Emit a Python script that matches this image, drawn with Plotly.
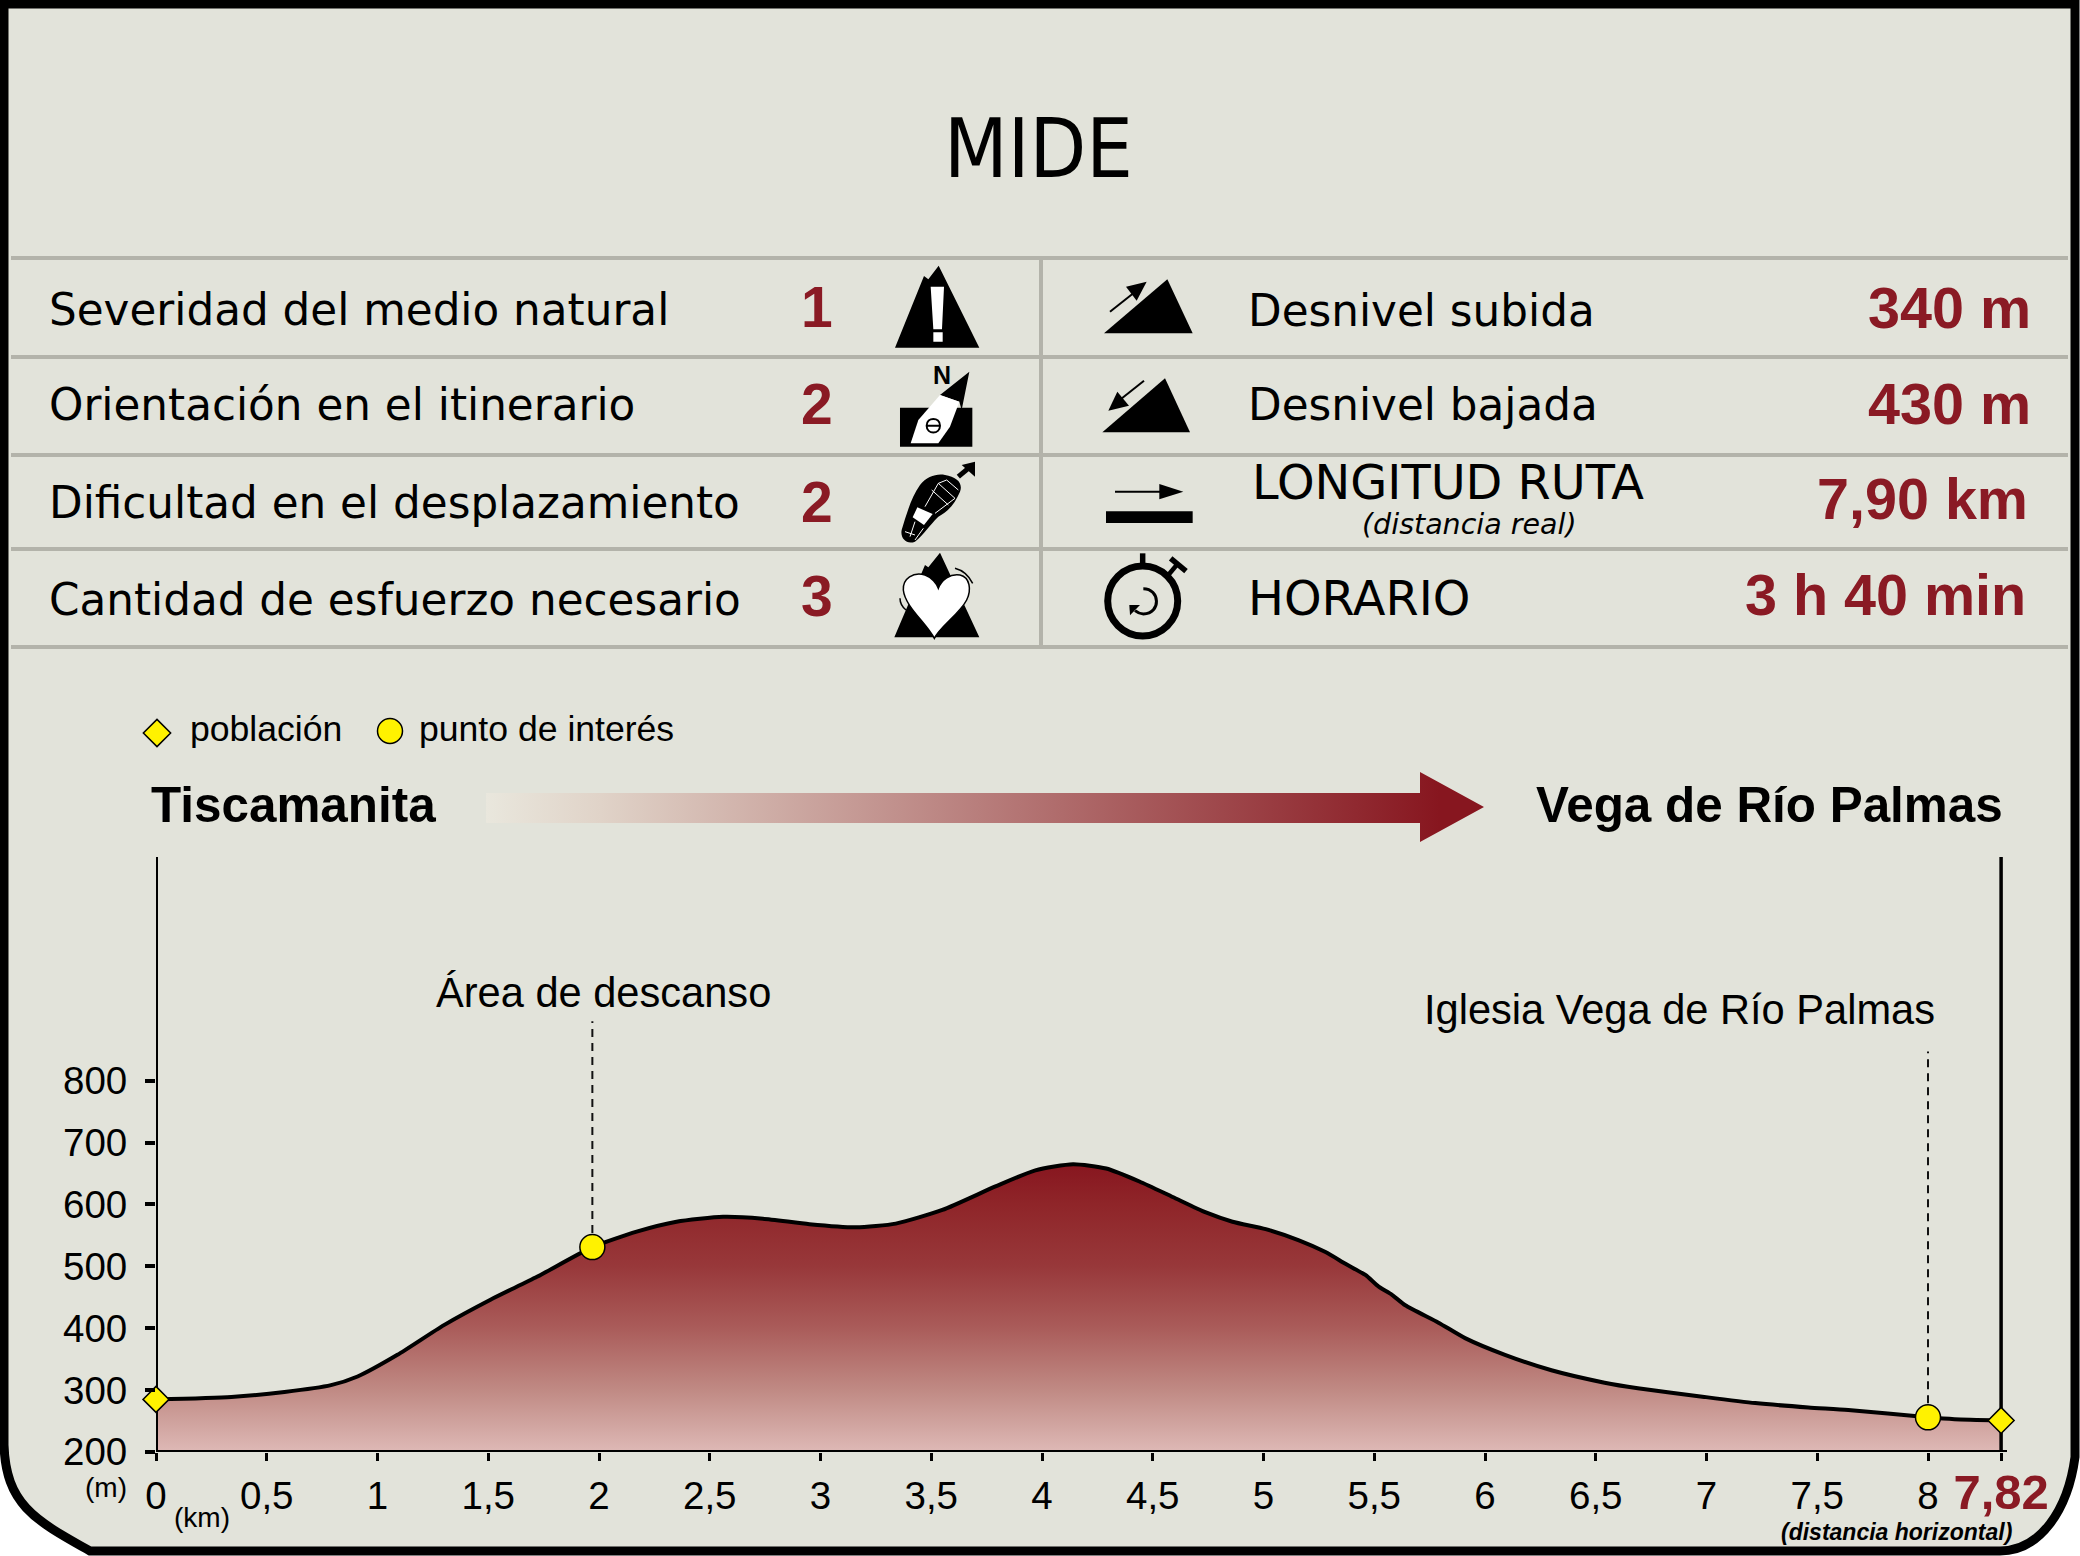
import re
import plotly.graph_objects as go

W, H = 2080, 1556
BG = "#e2e3da"
RED = "#8a1a24"
GREY = "#b3b3aa"
YELLOW = "#fff200"

title = "MIDE"
mide_labels = ["Severidad del medio natural", "Orientación en el itinerario",
               "Dificultad en el desplazamiento", "Cantidad de esfuerzo necesario"]
mide_values = ["1", "2", "2", "3"]
route_labels = ["Desnivel subida", "Desnivel bajada", "LONGITUD RUTA", "HORARIO"]
route_values = ["340 m", "430 m", "7,90 km", "3 h 40 min"]
start_name = "Tiscamanita"
end_name = "Vega de Río Palmas"

# profile; the axis is drawn in km, the last point sits past the 8 tick
dist = [0, 0.34, 0.58, 0.79, 0.91, 1.09, 1.30, 1.51, 1.72, 1.97, 2.17, 2.35, 2.56, 2.74, 2.95,
        3.16, 3.34, 3.55, 3.79, 3.97, 4.14, 4.29, 4.44, 4.59, 4.74, 4.86, 5.01, 5.16, 5.28,
        5.37, 5.46, 5.52, 5.58, 5.64, 5.79, 5.91, 6.09, 6.30, 6.54, 6.69, 6.99, 7.22, 7.46, 7.64,
        8.0, 8.12, 8.33]
elev = [285, 289, 297, 308, 322, 357, 405, 446, 483, 531, 556, 572, 580, 577, 568,
        563, 569, 591, 629, 655, 665, 658, 637, 612, 587, 572, 560, 542, 523,
        504, 486, 467, 454, 437, 409, 384, 357, 332, 312, 303, 289, 279, 272, 268,
        256, 253, 251]

town_x = [0, 8.33]
town_y = [285, 251]
poi_x = [1.97, 8.0]
poi_y = [531, 256]
poi_names = ["Área de descanso", "Iglesia Vega de Río Palmas"]
poi_top = [896, 847]

x_ticks = [0, 0.5, 1, 1.5, 2, 2.5, 3, 3.5, 4, 4.5, 5, 5.5, 6, 6.5, 7, 7.5, 8, 8.33]
x_labels = ["0", "0,5", "1", "1,5", "2", "2,5", "3", "3,5", "4", "4,5", "5", "5,5", "6", "6,5",
            "7", "7,5", "8", "<b><span style='color:#8a1a24;font-size:49px'>7,82</span></b>"]
y_ticks = [200, 300, 400, 500, 600, 700, 800]
y_top = 200 + (1452 - 857) / 0.619
x_end = (2007 - 156) / 221.5


def px(x):
    return round(x / W, 5)


def py(y):
    return round(1 - y / H, 5)


shapes = []
annotations = []


def label(text, x, y, size, anchor="left", font="Liberation Sans", color="black"):
    annotations.append(dict(text=text, x=px(x), y=py(y), xref="paper", yref="paper", showarrow=False,
                            xanchor=anchor, yanchor="middle", borderpad=0,
                            font=dict(family=font, size=size, color=color)))


def rule(x0, y0, x1, y1, width=4, color=GREY):
    shapes.append(dict(type="line", xref="paper", yref="paper", x0=px(x0), y0=py(y0), x1=px(x1), y1=py(y1),
                       line=dict(color=color, width=width)))


# icon outlines are written in crop pixels (3x) and moved to their place on the page
def icon(d, ox, oy, fill="black", line=None, width=0):
    conv = re.sub(r"(-?[\d.]+),(-?[\d.]+)",
                  lambda m: f"{px(ox + float(m[1]) / 3)},{py(oy + float(m[2]) / 3)}", d)
    shapes.append(dict(type="path", xref="paper", yref="paper", path=conv,
                       fillcolor=fill if fill else "rgba(0,0,0,0)",
                       line=dict(color=line if line else "rgba(0,0,0,0)", width=width)))


# panel
shapes.append(dict(type="path", xref="paper", yref="paper", layer="below", fillcolor=BG,
                   line=dict(color="black", width=9),
                   path=f"M {px(4)},{py(4)} L {px(2075)},{py(4)} L {px(2075)},{py(1457)} "
                        f"C {px(2068)},{py(1510)} {px(2040)},{py(1551)} {px(2000)},{py(1551)} "
                        f"L {px(90)},{py(1551)} C {px(35)},{py(1520)} {px(6)},{py(1505)} {px(4)},{py(1445)} Z"))

for y in [258, 357, 455, 549, 647]:
    rule(11, y, 2068, y)
rule(1041, 258, 1041, 647)

label(title, 1038, 148, 82, "center", "DejaVu Sans Condensed")

left_y = [309, 405, 503, 600]
num_y = [307, 404, 502, 596]
for i in range(4):
    label(mide_labels[i], 48, left_y[i], 43.7, font="DejaVu Sans")
    label(f"<b>{mide_values[i]}</b>", 817, num_y[i], 57, "center", color=RED)

right_y = [311, 405, 483, 598]
right_num_y = [308, 404, 499, 595]
right_size = [43.7, 43.7, 47.8, 47.8]
right_x = [2032, 2032, 2029, 2027]
for i in range(4):
    label(route_labels[i], 1251 if i == 2 else 1247, right_y[i], right_size[i], font="DejaVu Sans")
    label(f"<b>{route_values[i]}</b>", right_x[i], right_num_y[i], 57.5, "right", color=RED)
label("<i>(distancia real)</i>", 1470, 525, 28.5, "center", "DejaVu Sans")

# left icons
icon("M 105,293 L 192,78 L 205,88 L 236,47 L 358,293 Z", 860, 250)
icon("M 212,110 L 252,110 L 246,238 L 220,238 Z M 220,247 L 248,247 L 248,275 L 220,275 Z", 860, 250, "white")
icon("M 120,473 L 337,473 L 337,590 L 120,590 Z", 860, 250)
icon("M 328,365 L 240,435 L 298,455 L 305,480 Z", 860, 250)
icon("M 152,580 L 175,510 L 240,435 L 298,455 L 270,530 L 235,580 Z", 860, 250, "white")
icon("M 200,527 C 200,500 240,500 240,527 C 240,554 200,554 200,527 Z M 200,527 L 240,527", 860, 250, None, "black", 2)
label("<b>N</b>", 942, 375, 25, "center")
icon("M 255,675 C 290,680 310,700 300,725 C 285,760 265,785 235,800 C 205,830 195,850 165,875 "
     "C 140,885 120,865 125,840 C 140,790 155,740 180,705 C 200,680 230,670 255,675 Z", 860, 250)
icon("M 172,772 L 218,792 L 192,825 L 158,802 Z", 860, 250, "white")
icon("M 260,690 L 235,700 L 195,770 M 235,700 L 285,745 L 225,790 M 215,720 L 265,765 M 260,690 L 295,720 "
     "M 165,815 L 150,860 M 190,835 L 165,870 M 135,845 L 165,855", 860, 250, None, "white", 1)
icon("M 295,680 L 325,655", 860, 250, None, "black", 5)
icon("M 345,635 L 305,645 L 345,680 Z", 860, 250)
icon("M 103,1162 L 195,945 L 205,952 L 240,908 L 358,1162 Z", 860, 250)
icon("M 223,1165 C 200,1120 135,1070 130,1020 C 128,985 160,965 195,975 C 215,982 230,1000 235,1015 "
     "C 245,990 270,970 300,975 C 330,982 335,1020 320,1050 C 300,1090 240,1130 223,1165 Z",
     860, 250, "white", "black", 1.5)
icon("M 285,955 C 305,960 325,975 338,1000", 860, 250, None, "black", 1.5)
icon("M 120,1045 C 120,1060 125,1070 138,1080", 860, 250, None, "black", 1.5)

# right icons
icon("M 72,220 L 262,58 L 338,220 Z", 1080, 260)
icon("M 90,155 L 160,100", 1080, 260, None, "black", 2)
icon("M 200,65 L 138,80 L 170,122 Z", 1080, 260)
icon("M 67,517 L 255,355 L 330,517 Z", 1080, 260)
icon("M 192,362 L 122,418", 1080, 260, None, "black", 2)
icon("M 85,452 L 147,437 L 112,395 Z", 1080, 260)
icon("M 78,754 L 338,754 L 338,789 L 78,789 Z", 1080, 260)
icon("M 105,695 L 245,695", 1080, 260, None, "black", 2)
icon("M 238,672 L 310,695 L 238,718 Z", 1080, 260)
shapes.append(dict(type="circle", xref="paper", yref="paper", x0=px(1142.7 - 35), x1=px(1142.7 + 35),
                   y0=py(601 - 35), y1=py(601 + 35), line=dict(color="black", width=7)))
icon("M 188,880 L 188,915", 1080, 260, None, "black", 5.5)
icon("M 265,945 L 290,915", 1080, 260, None, "black", 4.5)
icon("M 272,895 L 318,933", 1080, 260, None, "black", 5.5)
icon("M 190,986 C 240,986 245,1060 190,1062 C 180,1062 175,1060 165,1052", 1080, 260, None, "black", 3)
icon("M 148,1035 L 180,1035 L 150,1066 Z", 1080, 260)

# legend row and route ends
label("población", 189, 729, 35.6)
label("punto de interés", 418, 729, 35.6)
label(f"<b>{start_name}</b>", 150, 804, 49.4)
label(f"<b>{end_name}</b>", 2004, 804, 49.4, "right")

# chart extras
label(poi_names[0], 604, 993, 41.6, "center")
label(poi_names[1], 1680, 1010, 41.6, "center")
label("(m)", 106, 1487, 28, "center")
label("(km)", 202, 1517, 28, "center")
label("<b><i>(distancia horizontal)</i></b>", 1896, 1532, 23, "center")

fig = go.Figure()
fig.add_trace(go.Scatter(x=dist, y=elev, mode="lines", line=dict(color="black", width=4, shape="spline", smoothing=0.6),
                         fill="tozeroy", cliponaxis=False,
                         fillgradient=dict(type="vertical", start=200, stop=665,
                                           colorscale=[[0, "#deb9b6"], [0.215, "#c08a84"], [0.43, "#aa5c5a"],
                                                       [0.645, "#98383a"], [0.86, "#8f2529"], [1, "#87161f"]])))
# axis lines and the end-of-route line sit centred on their positions
fig.add_trace(go.Scatter(x=[8.33, 8.33], y=[200, y_top], mode="lines", line=dict(color="black", width=3.5),
                         cliponaxis=False))
fig.add_trace(go.Scatter(x=[0, 0], y=[200, y_top], mode="lines", line=dict(color="black", width=4),
                         cliponaxis=False))
fig.add_trace(go.Scatter(x=[0, x_end], y=[200, 200], mode="lines", line=dict(color="black", width=4),
                         cliponaxis=False))
for i in range(2):
    fig.add_trace(go.Scatter(x=[poi_x[i], poi_x[i]], y=[poi_y[i], poi_top[i]], mode="lines",
                             line=dict(color="#111", width=2, dash="8px,6px")))
fig.add_trace(go.Scatter(x=poi_x, y=poi_y, mode="markers", cliponaxis=False,
                         marker=dict(symbol="circle", size=25, color=YELLOW, line=dict(color="black", width=1.5))))
fig.add_trace(go.Scatter(x=town_x, y=town_y, mode="markers", cliponaxis=False,
                         marker=dict(symbol="diamond", size=20, color=YELLOW, line=dict(color="black", width=1.5))))

# page overlay in pixels for the legend keys and the gradient arrow
fig.add_trace(go.Scatter(x=[157], y=[733], xaxis="x2", yaxis="y2", mode="markers",
                         marker=dict(symbol="diamond", size=21, color=YELLOW, line=dict(color="black", width=1.5))))
fig.add_trace(go.Scatter(x=[390], y=[731], xaxis="x2", yaxis="y2", mode="markers",
                         marker=dict(symbol="circle", size=25, color=YELLOW, line=dict(color="black", width=1.5))))
fig.add_trace(go.Scatter(x=[486, 1420, 1420, 1484, 1420, 1420, 486, 486],
                         y=[793, 793, 772, 807, 842, 823, 823, 793],
                         xaxis="x2", yaxis="y2", mode="none", fill="toself",
                         fillgradient=dict(type="horizontal", start=486, stop=1440,
                                           colorscale=[[0, "#e9e7dd"], [0.12, "#e0d3c8"], [1, "#87161f"]])))

fig.update_layout(
    width=W, height=H, margin=dict(l=0, r=0, t=0, b=0, autoexpand=False), showlegend=False,
    paper_bgcolor="white", plot_bgcolor="rgba(0,0,0,0)",
    font=dict(family="Liberation Sans", color="black"),
    shapes=shapes, annotations=annotations,
    xaxis=dict(domain=[156 / W, 2007 / W], range=[0, x_end], tickvals=x_ticks, ticktext=x_labels,
               showgrid=False, zeroline=False, showline=False, automargin=False,
               ticks="outside", ticklen=8, tickwidth=3, tickcolor="black", ticklabelstandoff=2,
               tickfont=dict(size=38.5), tickangle=0, anchor="y"),
    yaxis=dict(domain=[1 - 1452 / H, 1 - 857 / H], range=[200, y_top], tickvals=y_ticks,
               showgrid=False, zeroline=False, showline=False, automargin=False,
               ticks="outside", ticklen=10, tickwidth=3.5, tickcolor="black", ticklabelstandoff=10,
               tickfont=dict(size=38.5), anchor="x"),
    xaxis2=dict(domain=[0, 1], range=[0, W], visible=False, anchor="y2", automargin=False),
    yaxis2=dict(domain=[0, 1], range=[H, 0], visible=False, anchor="x2", automargin=False),
)

# the page's default body margin would push the figure off the window
fig.write_html("out.html", config={"displayModeBar": False},
               post_script="document.body.style.margin = '0';")
